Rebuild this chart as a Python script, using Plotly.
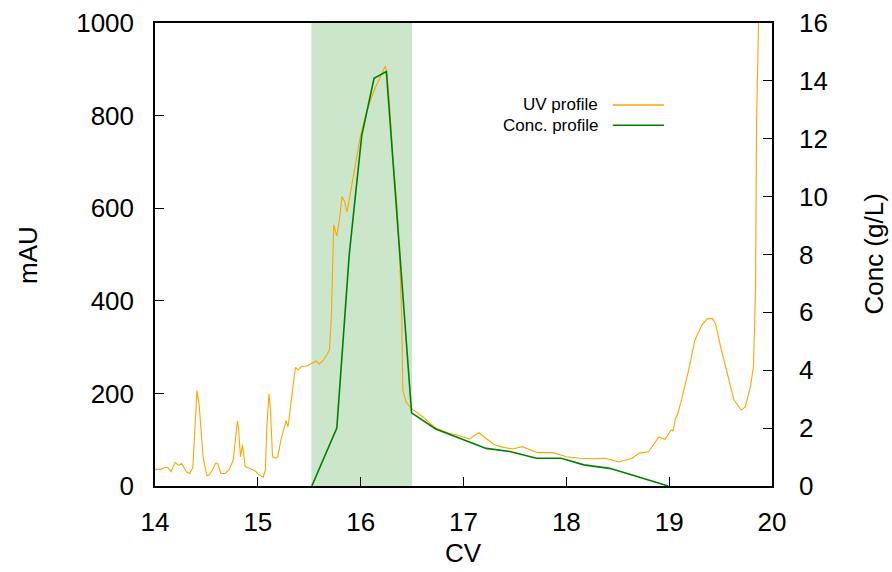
import plotly.graph_objects as go

# ---- data ----
uv_cv = [14.00, 14.06, 14.09, 14.125, 14.156, 14.196, 14.232, 14.257, 14.307, 14.337,
         14.368, 14.388, 14.408, 14.428, 14.468, 14.504, 14.529, 14.559, 14.589, 14.609,
         14.640, 14.680, 14.720, 14.761, 14.801, 14.811, 14.831, 14.851, 14.877, 14.922,
         14.972, 15.012, 15.053, 15.073, 15.088, 15.108, 15.123, 15.143, 15.174, 15.194,
         15.224, 15.264, 15.274, 15.294, 15.325, 15.355, 15.365, 15.39, 15.425, 15.476,
         15.526, 15.566, 15.597, 15.637, 15.677, 15.697, 15.715, 15.738, 15.768, 15.798,
         15.818, 15.844, 15.868, 15.889, 15.929, 15.959, 15.999, 16.04, 16.09, 16.14,
         16.19, 16.22, 16.24, 16.255, 16.28, 16.31, 16.35, 16.38, 16.40, 16.41,
         16.44, 16.49, 16.60, 16.73, 16.86, 16.97, 17.06, 17.11, 17.15, 17.19,
         17.30, 17.38, 17.48, 17.57, 17.63, 17.72, 17.87, 18.00, 18.13, 18.25,
         18.38, 18.51, 18.64, 18.71, 18.80, 18.90, 18.96, 19.02, 19.04, 19.06,
         19.08, 19.12, 19.19, 19.25, 19.32, 19.37, 19.42, 19.45, 19.50, 19.57,
         19.63, 19.70, 19.74, 19.79, 19.82, 19.84, 19.85, 19.87, 19.88]
uv_mau = [36, 36, 40, 40, 31, 51, 44, 49, 30, 27,
          40, 128, 206, 179, 63, 22, 24, 35, 49, 49,
          27, 27, 35, 56, 140, 128, 63, 89, 42, 38,
          33, 24, 19, 35, 128, 199, 164, 63, 60, 63,
          99, 132, 141, 128, 186, 233, 256, 251, 258, 259,
          266, 270, 263, 272, 285, 295, 366, 564, 540, 582,
          625, 614, 592, 618, 668, 711, 758, 794, 830, 859,
          884, 900, 907, 891, 826, 719, 611, 488, 359, 207,
          182, 168, 150, 125, 114, 108, 101, 110, 115, 108,
          89, 84, 80, 85, 80, 72, 72, 63, 60, 59,
          60, 52, 60, 71, 74, 106, 101, 121, 119, 146,
          153, 186, 251, 315, 348, 361, 362, 351, 301, 236,
          186, 164, 171, 214, 258, 430, 790, 1006, 1100]

conc_cv = [15.525, 15.768, 15.889, 16.01, 16.13, 16.25, 16.495, 16.73, 17.22,
           17.45, 17.71, 17.95, 18.17, 18.42, 18.64, 18.99]
conc_gl = [0.0, 2.0, 8.0, 12.1, 14.09, 14.32, 2.53, 1.97, 1.30,
           1.19, 0.96, 0.96, 0.73, 0.61, 0.38, 0.0]

pool_start, pool_end = 15.52, 16.50

x_ticks = [14, 15, 16, 17, 18, 19, 20]
y_ticks = [0, 200, 400, 600, 800, 1000]
y2_ticks = [0, 2, 4, 6, 8, 10, 12, 14, 16]

FONT = "Liberation Sans, Arial, Helvetica, sans-serif"
UV_COLOR = "#ffa500"
CONC_COLOR = "#008000"

fig = go.Figure()
fig.add_vrect(x0=pool_start, x1=pool_end, fillcolor="rgb(204,230,204)",
              line_width=0, layer="below")
fig.add_trace(go.Scatter(x=uv_cv, y=uv_mau, mode="lines", name="UV profile",
                         line=dict(color=UV_COLOR, width=1.1), yaxis="y"))
fig.add_trace(go.Scatter(x=conc_cv, y=conc_gl, mode="lines", name="Conc. profile",
                         line=dict(color=CONC_COLOR, width=1.6), yaxis="y2"))

tickfont = dict(family=FONT, size=26, color="black")
fig.update_layout(
    width=892, height=572,
    margin=dict(l=155, r=120, t=23, b=86, autoexpand=False),
    paper_bgcolor="white", plot_bgcolor="white",
    showlegend=False,
    font=dict(family=FONT, color="black"),
    xaxis=dict(range=[14, 20], tickvals=x_ticks, ticks="inside", ticklen=9,
               tickcolor="black", showgrid=False, zeroline=False,
               showline=True, linecolor="black", linewidth=1.5, mirror=True,
               tickfont=tickfont, ticklabelstandoff=12),
    yaxis=dict(range=[0, 1000], tickvals=y_ticks, ticks="inside", ticklen=9,
               tickcolor="black", showgrid=False, zeroline=False,
               showline=True, linecolor="black", linewidth=1.5,
               tickfont=tickfont, ticklabelstandoff=14),
    yaxis2=dict(range=[0, 16], tickvals=y2_ticks, ticks="inside", ticklen=9,
                tickcolor="black", showgrid=False, zeroline=False,
                overlaying="y", side="right",
                showline=True, linecolor="black", linewidth=1.5,
                tickfont=tickfont, ticklabelstandoff=20),
)

# axis titles
fig.add_annotation(text="CV", xref="paper", yref="paper", x=0.5, y=-0.1447,
                   showarrow=False, font=dict(family=FONT, size=26),
                   xanchor="center", yanchor="middle")
fig.add_annotation(text="mAU", xref="paper", yref="paper", x=-0.2068, y=0.5,
                   showarrow=False, textangle=-90, font=dict(family=FONT, size=26),
                   xanchor="center", yanchor="middle")
fig.add_annotation(text="Conc (g/L)", xref="paper", yref="paper", x=1.1638, y=0.5,
                   showarrow=False, textangle=-90, font=dict(family=FONT, size=26),
                   xanchor="center", yanchor="middle")

# legend (gnuplot style: text right, sample line at right)
legend_items = [("UV profile", UV_COLOR, 0.823), ("Conc. profile", CONC_COLOR, 0.779)]
for label, color, ly in legend_items:
    fig.add_annotation(text=label, xref="paper", yref="paper", x=0.719, y=ly,
                       showarrow=False, font=dict(family=FONT, size=17),
                       xanchor="right", yanchor="middle", borderpad=0)
    fig.add_shape(type="line", xref="paper", yref="paper", x0=0.742, x1=0.825,
                  y0=ly, y1=ly, line=dict(color=color, width=1.5))

fig.write_html("out.html")
